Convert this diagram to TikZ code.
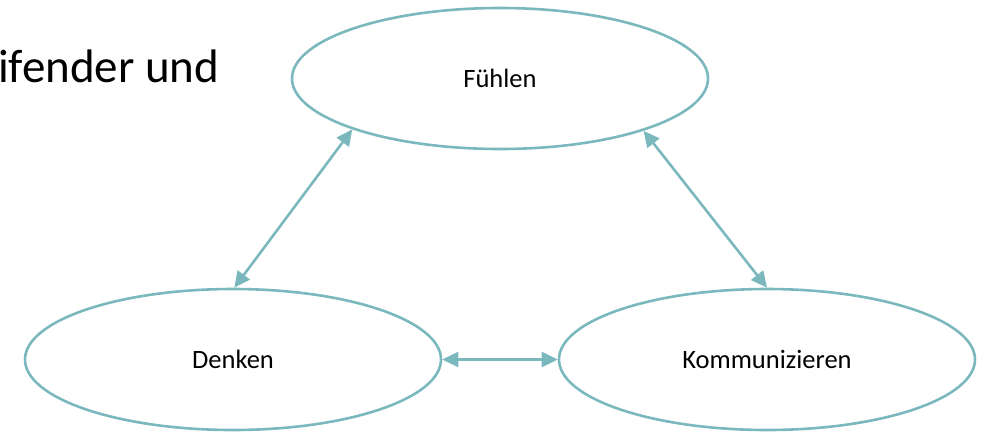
\documentclass[tikz,border=0pt]{standalone}
\usepackage{fontspec}
\setmainfont{Carlito}
\usetikzlibrary{arrows.meta,shapes.geometric}
\definecolor{teal}{HTML}{7AB8BE}
\begin{document}
\begin{tikzpicture}[x=1pt,y=-1pt,
  oval/.style={ellipse,draw=teal,line width=2.6pt,minimum width=416pt,
    minimum height=141pt,inner sep=0pt,font=\fontsize{26.5}{32}\selectfont},
  link/.style={teal,line width=2.6pt,{Triangle[length=16pt,width=15pt]}-{Triangle[length=16pt,width=15pt]}}]
  \useasboundingbox (0,0) rectangle (988,432);
  \clip (0,0) rectangle (988,432);
  % heading fragment
  \node[anchor=base west,inner sep=0pt,font=\fontsize{47}{56}\selectfont] (head) at (-2,82) {ifender und};
  % the three ovals
  \node[oval] (F) at (500,78.5) {Fühlen};
  \node[oval] (D) at (233,359.5) {Denken};
  \node[oval] (K) at (767,359.5) {Kommunizieren};
  % two-way links
  \draw[link] (F.199) -- (D.89.5);
  \draw[link] (F.340.6) -- (K.90);
  \draw[link] (D.east) -- (K.west);
\end{tikzpicture}
\end{document}
